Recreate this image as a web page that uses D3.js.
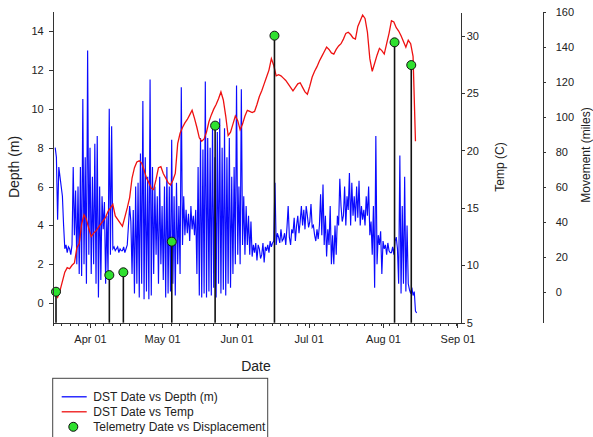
<!DOCTYPE html>
<html>
<head>
<meta charset="utf-8">
<title>DST depth, temperature and telemetry displacement</title>
<script src="https://d3js.org/d3.v7.min.js"></script>
<style>
  body { margin: 0; background: #fff; }
  svg { display: block; font-family: "Liberation Sans", Arial, sans-serif; }
  .axis path, .axis line { stroke: #333; shape-rendering: crispEdges; }
  .axis text { font-size: 11px; fill: #222; }
  .title { fill: #222; }
</style>
</head>
<body>
<svg id="chart" width="593" height="437"></svg>
<script>
// DST tag record: depth every 12 hours, temperature once a day
var dstStart = "2007-03-17 12:00";
var depthStepHours = 12;
var depthValues = [
  8.0, 7.5, 4.3, 7.0, 6.5, 6.0, 5.5, 4.0, 2.8, 3.0, 2.6, 2.9, 2.8, 2.5, 3.0, 7.0, 3.5, 5.8, 2.0, 6.0,
  1.5, 7.0, 1.4, 10.5, 2.0, 7.5, 1.0, 13.0, 2.5, 8.0, 1.5, 6.5, 2.0, 8.2, 1.0, 8.6, 0.3, 6.0, 1.2, 5.5,
  3.8, 5.2, 1.0, 4.5, 1.5, 10.0, 2.5, 9.1, 2.8, 2.9, 2.7, 2.8, 2.9, 2.6, 2.8, 2.7, 2.7, 2.9, 2.6, 2.8,
  3.0, 4.0, 5.0, 4.2, 1.5, 4.8, 0.5, 6.0, 1.0, 6.2, 0.3, 7.7, 1.0, 10.4, 0.2, 7.5, 0.6, 6.5, 0.2, 11.5,
  0.4, 7.0, 1.5, 6.0, 2.5, 5.5, 1.0, 6.5, 2.0, 5.0, 1.2, 6.0, 0.3, 7.0, 0.5, 6.0, 0.6, 8.4, 1.0, 5.5,
  0.4, 6.2, 2.0, 5.0, 1.5, 11.1, 3.0, 5.5, 3.5, 4.8, 3.6, 4.6, 3.2, 5.0, 3.8, 4.5, 3.5, 4.8, 1.5, 7.0,
  0.4, 8.5, 0.3, 7.9, 0.5, 11.4, 0.3, 8.5, 0.6, 8.0, 0.4, 9.2, 0.8, 7.5, 0.3, 8.8, 1.0, 9.5, 0.5, 8.0,
  0.7, 9.0, 0.4, 7.5, 1.0, 8.5, 0.8, 6.5, 1.5, 7.0, 2.0, 11.2, 2.5, 6.0, 2.0, 11.0, 3.0, 5.5, 2.5, 5.0,
  3.0, 4.5, 2.5, 4.2, 2.4, 3.0, 2.6, 3.1, 2.2, 3.0, 2.8, 2.3, 2.5, 3.1, 2.1, 2.9, 2.7, 3.0, 2.6, 3.2,
  2.9, 3.1, 3.2, 6.2, 3.0, 3.6, 3.4, 3.1, 3.8, 3.2, 3.3, 3.6, 3.0, 3.9, 5.0, 3.4, 3.0, 3.8, 3.6, 4.4,
  3.2, 4.0, 4.5, 3.6, 4.2, 5.0, 4.0, 4.8, 3.8, 5.0, 4.5, 3.9, 4.2, 5.1, 3.9, 4.0, 3.5, 3.2, 3.8, 3.3,
  4.0, 5.6, 3.5, 6.1, 3.0, 4.5, 2.4, 3.8, 3.0, 5.0, 2.0, 3.5, 2.0, 4.0, 2.5, 4.5, 4.0, 6.4, 5.0, 4.2,
  4.5, 6.0, 4.0, 5.5, 4.8, 6.7, 4.0, 6.2, 4.5, 5.5, 4.2, 6.0, 4.4, 6.3, 4.0, 5.0, 4.3, 4.8, 4.0, 5.5,
  4.5, 6.0, 3.5, 4.2, 2.5, 5.0, 0.8, 8.6, 2.0, 3.5, 3.0, 3.7, 1.5, 3.2, 2.8, 3.0, 2.5, 3.1, 2.7, 2.6,
  2.6, 2.9, 2.5, 3.2, 3.4, 2.8, 1.0, 7.6, 0.5, 5.0, 1.0, 6.5, 0.6, 4.0, 1.0, 0.7, 0.5, 0.8, 0.4, 0.6,
  -0.4, -0.5
];
var tempStepHours = 24;
var tempValues = [
  7.5, 7.2, 7.8, 8.6, 9.4, 9.8, 9.7, 10.0, 10.2, 11.5,
  11.9, 13.6, 14.4, 14.0, 13.2, 12.5, 12.8, 13.0, 13.3, 13.6,
  13.9, 14.2, 14.7, 15.0, 15.3, 14.3, 14.0, 13.7, 13.4, 14.2,
  15.0, 15.9, 17.6, 18.5, 19.0, 19.1, 18.9, 18.3, 17.6, 17.2,
  16.7, 16.6, 17.5, 18.5, 18.6, 18.0, 17.6, 17.2, 17.0, 17.4,
  18.0, 20.6, 21.5, 22.0, 22.4, 22.7, 23.1, 23.5, 22.8, 22.0,
  21.1, 20.8, 21.0, 21.6, 22.5, 23.1, 23.6, 24.0, 24.5, 25.1,
  24.4, 23.0, 21.3, 21.6, 22.3, 23.0, 22.6, 21.8, 22.3, 23.0,
  23.5, 23.4, 23.3, 23.4, 24.0, 24.7, 25.2, 25.8, 26.4, 27.0,
  28.0, 27.4, 26.5, 26.6, 26.5, 26.3, 26.1, 25.8, 25.5, 25.2,
  25.5, 25.8, 25.9, 25.5, 25.1, 24.9, 25.6, 26.4, 26.9, 27.3,
  27.8, 28.2, 28.6, 29.0, 28.8, 28.5, 28.4, 28.8, 29.1, 29.3,
  29.7, 30.2, 30.3, 30.1, 29.8, 29.7, 30.8, 31.3, 31.8, 31.5,
  30.3, 28.0, 26.9, 27.6, 28.3, 28.9, 28.7, 28.4, 29.3, 30.2,
  31.3, 31.2, 30.7, 30.4, 30.0, 29.5, 29.0, 29.6, 29.3, 28.2,
  20.8
];

// telemetry fixes, displacement in miles
var telemetryDates = [
  "2007-03-17 20:00", "2007-04-09 01:00", "2007-04-14 21:00", "2007-05-05 01:00",
  "2007-05-23 02:00", "2007-06-16 19:00", "2007-08-05 19:00", "2007-08-12 18:00"
];
var displacement = [0, 9.5, 11.1, 28.6, 94.9, 146.3, 142.5, 129.5];

// axes
var dateExtent = ["2007-03-16 14:00", "2007-09-02 06:00"];
var monthTicks = ["2007-04-01", "2007-05-01", "2007-06-01", "2007-07-01", "2007-08-01", "2007-09-01"];
var depthTicks = [0, 2, 4, 6, 8, 10, 12, 14];
var tempTicks = [5, 10, 15, 20, 25, 30];
var moveTicks = [0, 20, 40, 60, 80, 100, 120, 140, 160];

var parseTime = d3.timeParse("%Y-%m-%d %H:%M");
var parseDay = d3.timeParse("%Y-%m-%d");

var svg = d3.select("#chart");
svg.append("rect").attr("width", 593).attr("height", 437).attr("fill", "#fff");

var x = d3.scaleTime()
  .domain(dateExtent.map(parseTime))
  .range([53, 460.5]);
var yDepth = d3.scaleLinear().domain([-1, 15]).range([322.7, 11.5]);
var yTemp = d3.scaleLinear().domain([5, 32]).range([322.7, 12.7]);
var yMove = d3.scaleLinear().domain([-17.7, 160]).range([322.7, 11.7]);

var start = parseTime(dstStart);
var depthData = depthValues.map(function(v, i) {
  return { date: d3.timeHour.offset(start, i * depthStepHours), value: v };
});
var tempData = tempValues.map(function(v, i) {
  return { date: d3.timeHour.offset(start, i * tempStepHours), value: v };
});
var fixes = telemetryDates.map(function(d, i) {
  return { date: parseTime(d), value: displacement[i] };
});

// depth trace
svg.append("path")
  .datum(depthData)
  .attr("fill", "none")
  .attr("stroke", "#0a0aff")
  .attr("stroke-width", 1.15)
  .attr("d", d3.line()
    .x(function(d) { return x(d.date); })
    .y(function(d) { return yDepth(d.value); }));

// temperature trace
svg.append("path")
  .datum(tempData)
  .attr("fill", "none")
  .attr("stroke", "#ee1111")
  .attr("stroke-width", 1.3)
  .attr("d", d3.line()
    .x(function(d) { return x(d.date); })
    .y(function(d) { return yTemp(d.value); }));

// telemetry stems down to the date axis, then the dots
svg.selectAll(".stem")
  .data(fixes)
  .enter().append("line")
  .attr("class", "stem")
  .attr("x1", function(d) { return x(d.date); })
  .attr("x2", function(d) { return x(d.date); })
  .attr("y1", function(d) { return yMove(d.value); })
  .attr("y2", yMove.range()[0])
  .attr("stroke", "#111")
  .attr("stroke-width", 1.6);

svg.selectAll(".fix")
  .data(fixes)
  .enter().append("circle")
  .attr("class", "fix")
  .attr("cx", function(d) { return x(d.date); })
  .attr("cy", function(d) { return yMove(d.value); })
  .attr("r", 4.5)
  .attr("fill", "#2fe02f")
  .attr("stroke", "#111")
  .attr("stroke-width", 1);

// bottom axis: month labels plus minor ticks every 3.5 days
var minorTicks = d3.range(0, 49).map(function(k) {
  return d3.timeHour.offset(x.domain()[0], k * 84);
});
svg.append("g")
  .attr("class", "axis")
  .attr("transform", "translate(0,322.7)")
  .call(d3.axisBottom(x).tickValues(minorTicks).tickFormat("").tickSize(3).tickSizeOuter(0));
svg.append("g")
  .attr("class", "axis")
  .attr("transform", "translate(0,322.7)")
  .call(d3.axisBottom(x)
    .tickValues(monthTicks.map(parseDay))
    .tickFormat(d3.timeFormat("%b %d"))
    .tickSize(5).tickPadding(8).tickSizeOuter(0));

svg.append("g")
  .attr("class", "axis")
  .attr("transform", "translate(52.7,0)")
  .call(d3.axisLeft(yDepth).tickValues(depthTicks).tickSize(4).tickPadding(5).tickSizeOuter(0));

svg.append("g")
  .attr("class", "axis")
  .attr("transform", "translate(460.7,0)")
  .call(d3.axisRight(yTemp).tickValues(tempTicks).tickSize(4).tickPadding(2).tickSizeOuter(0));

svg.append("g")
  .attr("class", "axis")
  .attr("transform", "translate(542.7,0)")
  .call(d3.axisRight(yMove).tickValues(moveTicks).tickSize(3).tickPadding(10).tickSizeOuter(0));

// axis titles
svg.append("text").attr("class", "title")
  .attr("transform", "translate(19,167) rotate(-90)")
  .attr("text-anchor", "middle").style("font-size", "14px")
  .text("Depth (m)");
svg.append("text").attr("class", "title")
  .attr("transform", "translate(504,167) rotate(-90)")
  .attr("text-anchor", "middle").style("font-size", "12px")
  .text("Temp (C)");
svg.append("text").attr("class", "title")
  .attr("transform", "translate(589.5,155) rotate(-90)")
  .attr("text-anchor", "middle").style("font-size", "12px")
  .text("Movement (miles)");
svg.append("text").attr("class", "title")
  .attr("x", 256).attr("y", 371)
  .attr("text-anchor", "middle").style("font-size", "14px")
  .text("Date");

// legend
var legendItems = ["DST Date vs Depth (m)", "DST Date vs Temp", "Telemetry Date vs Displacement"];
var legend = svg.append("g").attr("transform", "translate(52.7,378.3)");
legend.append("rect")
  .attr("width", 215).attr("height", 70)
  .attr("fill", "#fff").attr("stroke", "#444");
var rows = legend.selectAll(".row")
  .data(legendItems)
  .enter().append("g")
  .attr("class", "row")
  .attr("transform", function(d, i) { return "translate(0," + (18.5 + i * 15) + ")"; });
rows.append("text")
  .attr("x", 40.6).attr("dy", "0.35em")
  .style("font-size", "12px").attr("fill", "#222")
  .text(function(d) { return d; });
rows.filter(function(d, i) { return i < 2; })
  .append("line")
  .attr("x1", 9).attr("x2", 34)
  .attr("stroke", function(d, i) { return i === 0 ? "#0a0aff" : "#ee1111"; })
  .attr("stroke-width", 1.3);
rows.filter(function(d, i) { return i === 2; })
  .append("circle")
  .attr("cx", 20.6).attr("r", 4.5)
  .attr("fill", "#2fe02f").attr("stroke", "#111");
</script>
</body>
</html>
